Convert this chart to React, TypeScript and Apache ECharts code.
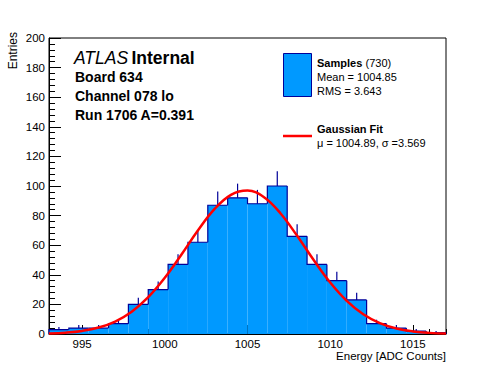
import React, { useEffect, useRef } from "react";
import * as echarts from "echarts";

const xMin = 993;
const xMax = 1017;
const binWidth = 1.2;
const counts = [3, 4, 4, 7, 20, 30, 47, 62, 87, 92, 88, 100, 66, 47, 36, 23, 7, 4, 2, 1];
const fitX = [993, 994, 995, 996, 997, 998, 999, 1000, 1001, 1002, 1003, 1004, 1005, 1006, 1007, 1008, 1009, 1010, 1011, 1012, 1013, 1014, 1015, 1016, 1017];
const fitY = [0.38, 0.92, 2.09, 4.36, 8.42, 15.06, 24.85, 37.94, 53.55, 69.88, 84.31, 94.03, 96.95, 92.42, 81.44, 66.36, 49.98, 34.8, 22.41, 13.34, 7.34, 3.73, 1.75, 0.76, 0.31];
const xMajorTicks = [995, 1000, 1005, 1010, 1015];
const yMin = 0;
const yMax = 200;
const yInterval = 20;

const FONT = "'Liberation Sans', Arial, Helvetica, sans-serif";
const FILL = "#0099ff";
const EDGE = "#000099";

export default function App() {
  const ref = useRef<HTMLDivElement>(null);
  useEffect(() => {
    if (!ref.current) return;
    const chart = echarts.init(ref.current, null, { renderer: "svg" });
    const histData = counts.map((c, i) => [
      xMin + i * binWidth,
      xMin + (i + 1) * binWidth,
      c,
      i > 0 ? counts[i - 1] : 0,
      i === counts.length - 1 ? 1 : 0,
    ]);
    const option: any = {
      animation: false,
      backgroundColor: "#ffffff",
      grid: {
        left: 49,
        top: 38,
        width: 397,
        height: 296,
        show: true,
        borderColor: "#000",
        borderWidth: 1,
        backgroundColor: "transparent",
      },
      xAxis: [
        {
          type: "value",
          min: xMin,
          max: xMax,
          position: "bottom",
          axisLine: { show: true, onZero: false, lineStyle: { color: "#000", width: 1 } },
          axisTick: { show: true, inside: true, length: 9, customValues: xMajorTicks, lineStyle: { color: "#000" } },
          axisLabel: {
            customValues: xMajorTicks,
            formatter: (v: number) => String(v),
            color: "#000",
            fontSize: 11.5,
            fontFamily: FONT,
            margin: 4,
          },
          splitLine: { show: false },
        },
        {
          type: "value",
          min: xMin,
          max: xMax,
          interval: 1,
          position: "bottom",
          axisLine: { show: false },
          axisTick: { show: true, inside: true, length: 5, lineStyle: { color: "#000" } },
          axisLabel: { show: false },
          splitLine: { show: false },
        },
      ],
      yAxis: [
        {
          type: "value",
          min: yMin,
          max: yMax,
          interval: yInterval,
          axisLine: { show: true, onZero: false, lineStyle: { color: "#000", width: 1 } },
          axisTick: { show: true, inside: true, length: 12, lineStyle: { color: "#000" } },
          minorTick: { show: true, splitNumber: 5, length: 6, lineStyle: { color: "#000" } },
          axisLabel: { color: "#000", fontSize: 11.5, fontFamily: FONT, margin: 4 },
          splitLine: { show: false },
        },
      ],
      series: [
        {
          type: "custom",
          xAxisIndex: 0,
          yAxisIndex: 0,
          encode: { x: [0, 1], y: 2 },
          data: histData,
          renderItem: (params: any, api: any) => {
            const x0 = api.value(0);
            const x1 = api.value(1);
            const n = api.value(2);
            const prev = api.value(3);
            const last = api.value(4);
            const pBase = api.coord([x0, 0]);
            const pTop = api.coord([x1, n]);
            const pPrev = api.coord([x0, prev]);
            const xc = (x0 + x1) / 2;
            const eTop = api.coord([xc, n + Math.sqrt(n)]);
            const eBot = api.coord([xc, n]);
            const children: any[] = [
              {
                type: "rect",
                shape: { x: pBase[0], y: pTop[1], width: pTop[0] - pBase[0], height: pBase[1] - pTop[1] },
                style: { fill: FILL },
              },
              {
                type: "polyline",
                shape: { points: [pPrev, [pBase[0], pTop[1]], pTop] },
                style: { stroke: EDGE, lineWidth: 1.2, fill: "none" },
              },
              {
                type: "line",
                shape: { x1: eTop[0], y1: eTop[1], x2: eBot[0], y2: eBot[1] },
                style: { stroke: EDGE, lineWidth: 1.2 },
              },
            ];
            if (last) {
              children.push({
                type: "line",
                shape: { x1: pTop[0], y1: pTop[1], x2: pTop[0], y2: pBase[1] },
                style: { stroke: EDGE, lineWidth: 1.2 },
              });
            }
            return { type: "group", children };
          },
          z: 2,
        },
        {
          type: "line",
          xAxisIndex: 0,
          yAxisIndex: 0,
          data: fitX.map((x, i) => [x, fitY[i]]),
          smooth: 0.4,
          showSymbol: false,
          symbol: "none",
          lineStyle: { color: "#ff0000", width: 2.5 },
          z: 3,
        },
      ],
      graphic: [
        {
          type: "text",
          x: 13,
          y: 32,
          rotation: Math.PI / 2,
          style: { text: "Entries", font: `12px ${FONT}`, fill: "#000", align: "right", verticalAlign: "middle" },
        },
        {
          type: "text",
          x: 446,
          y: 356,
          style: { text: "Energy [ADC Counts]", font: `11.5px ${FONT}`, fill: "#000", align: "right", verticalAlign: "middle" },
        },
        {
          type: "text",
          x: 74,
          y: 58,
          style: {
            text: "{i|ATLAS} {b|Internal}",
            verticalAlign: "middle",
            rich: {
              i: { font: `italic 17.5px ${FONT}`, fill: "#000" },
              b: { font: `bold 17.5px ${FONT}`, fill: "#000" },
            },
          },
        },
        { type: "text", x: 75, y: 77, style: { text: "Board 634", font: `bold 14px ${FONT}`, fill: "#000", verticalAlign: "middle" } },
        { type: "text", x: 75, y: 96, style: { text: "Channel 078 lo", font: `bold 14px ${FONT}`, fill: "#000", verticalAlign: "middle" } },
        { type: "text", x: 75, y: 115, style: { text: "Run 1706 A=0.391", font: `bold 14px ${FONT}`, fill: "#000", verticalAlign: "middle" } },
        {
          type: "rect",
          shape: { x: 283.5, y: 53.5, width: 28, height: 43 },
          style: { fill: FILL, stroke: EDGE, lineWidth: 1 },
        },
        {
          type: "text",
          x: 317,
          y: 63,
          style: {
            text: "{b|Samples} {r|(730)}",
            verticalAlign: "middle",
            rich: {
              b: { font: `bold 11px ${FONT}`, fill: "#000" },
              r: { font: `11px ${FONT}`, fill: "#000" },
            },
          },
        },
        { type: "text", x: 317, y: 77, style: { text: "Mean = 1004.85", font: `11px ${FONT}`, fill: "#000", verticalAlign: "middle" } },
        { type: "text", x: 317, y: 91, style: { text: "RMS = 3.643", font: `11px ${FONT}`, fill: "#000", verticalAlign: "middle" } },
        {
          type: "line",
          shape: { x1: 283, y1: 136, x2: 312, y2: 136 },
          style: { stroke: "#ff0000", lineWidth: 2.5 },
        },
        { type: "text", x: 317, y: 129, style: { text: "Gaussian Fit", font: `bold 11px ${FONT}`, fill: "#000", verticalAlign: "middle" } },
        { type: "text", x: 317, y: 143, style: { text: "μ = 1004.89, σ =3.569", font: `11px ${FONT}`, fill: "#000", verticalAlign: "middle" } },
      ],
    };
    chart.setOption(option);
    return () => chart.dispose();
  }, []);
  return <div ref={ref} style={{ position: "fixed", left: 0, top: 0, width: 496, height: 372 }} />;
}
